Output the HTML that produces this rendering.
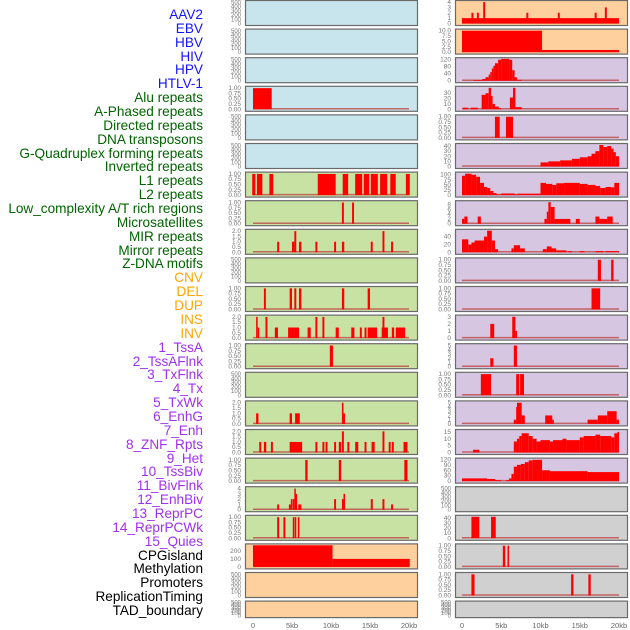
<!DOCTYPE html>
<html><head><meta charset="utf-8">
<style>
html,body{margin:0;padding:0;background:#fff;width:630px;height:630px;overflow:hidden}
#lbls div{position:absolute;right:427px;font-family:"Liberation Sans",sans-serif;font-size:13.6px;line-height:14px;white-space:nowrap}
</style></head><body>
<div id="lbls"></div>
<svg id="chart" width="630" height="630" style="position:absolute;left:0;top:0"></svg>
<script>
const labelNames = ["AAV2","EBV","HBV","HIV","HPV","HTLV-1","Alu repeats","A-Phased repeats","Directed repeats","DNA transposons","G-Quadruplex forming repeats","Inverted repeats","L1 repeats","L2 repeats","Low_complexity A/T rich regions","Microsatellites","MIR repeats","Mirror repeats","Z-DNA motifs","CNV","DEL","DUP","INS","INV","1_TssA","2_TssAFlnk","3_TxFlnk","4_Tx","5_TxWk","6_EnhG","7_Enh","8_ZNF_Rpts","9_Het","10_TssBiv","11_BivFlnk","12_EnhBiv","13_ReprPC","14_ReprPCWk","15_Quies","CPGisland","Methylation","Promoters","ReplicationTiming","TAD_boundary"];
const labelGroups = [6,13,5,15,5];
const groupColors = ["#1414ff","#006400","#ffa500","#a030f0","#000000"];

const xTicks = [0,5,10,15,20];
const xTickLabels = ["0","5kb","10kb","15kb","20kb"];

const leftBg = ["#c8e4ec","#c8e4ec","#c8e4ec","#c8e4ec","#c8e4ec","#c8e4ec","#c8e2a4","#c8e2a4","#c8e2a4","#c8e2a4","#c8e2a4","#c8e2a4","#c8e2a4","#c8e2a4","#c8e2a4","#c8e2a4","#c8e2a4","#c8e2a4","#c8e2a4","#fed09e","#fed09e","#fed09e"];
const rightBg = ["#fed09e","#fed09e","#d6c6e2","#d6c6e2","#d6c6e2","#d6c6e2","#d6c6e2","#d6c6e2","#d6c6e2","#d6c6e2","#d6c6e2","#d6c6e2","#d6c6e2","#d6c6e2","#d6c6e2","#d6c6e2","#d6c6e2","#d0d0d0","#d0d0d0","#d0d0d0","#d0d0d0","#d0d0d0"];

const T500 = ["0","100","200","300","400","500"];
const T1 = ["0.00","0.25","0.50","0.75","1.00"];
const T2 = ["0.0","0.5","1.0","1.5","2.0"];
const leftYMax = [520,520,520,1.04,520,520,1.04,1.04,2.08,520,1.04,2.08,1.04,520,2.08,2.08,1.04,4.16,1.04,275,520,520];
const leftTicks = [T500,T500,T500,T1,T500,T500,T1,T1,T2,T500,T1,T2,T1,T500,T2,T2,T1,["0","1","2","3","4"],T1,["0","100","200"],T500,T500];
const leftSegs = [
 [],[],[],
 [[0,2.4,1]],
 [],[],
 [[-0.1,0.3,1],[0.5,1.2,1],[2.1,2.6,1],[8.3,10.6,1],[11.5,12.2,1],[13.1,14,1],[14.2,14.9,1],[15.1,16,1],[16.3,17.2,1],[17.6,18.3,1],[19.6,20.1,1]],
 [[11.4,11.65,1],[12.7,12.95,1]],
 [[3.1,3.35,1],[5.0,5.3,1],[5.3,5.55,2],[5.9,6.2,1],[8.0,8.25,1],[10.4,10.65,1],[11.4,11.7,1],[15.1,15.35,1],[16.6,16.85,2],[17.7,17.95,1]],
 [],
 [[1.4,1.65,1],[4.7,5.0,1],[5.3,5.55,1],[5.9,6.2,1],[11.4,11.7,1],[14.7,15.0,1]],
 [[0.4,0.6,2],[0.6,0.7,1],[1.6,1.85,2],[2.8,3.2,1],[4.5,5.9,1],[7.0,7.4,1],[8.0,8.25,2],[8.9,9.15,2],[10.6,11.0,1],[12.6,13.0,1],[13.7,13.95,1],[14.3,14.55,1],[14.7,15.9,1],[16.6,16.85,2],[16.5,17.3,1],[17.8,18.1,1],[18.3,19.5,1]],
 [[9.85,10.25,1]],
 [],
 [[0.4,0.7,1],[4.7,5.0,1],[5.4,6.0,1],[11.4,11.6,2],[11.6,11.7,1]],
 [[0.8,1.05,1],[1.4,1.7,1],[2.3,2.55,1],[4.7,6.3,1],[8.0,8.25,1],[8.9,9.15,1],[9.3,9.55,1],[10.4,10.65,1],[11.0,11.3,1],[11.4,11.65,2],[12.1,12.35,1],[13.1,13.5,1],[14.3,14.55,1],[15.2,15.6,1],[16.6,16.85,2],[17.4,17.65,1],[17.8,18.05,1],[19.3,19.8,1]],
 [[6.7,7.0,1],[11.0,11.3,1],[19.4,19.8,1]],
 [[3.1,3.35,1],[4.6,4.85,1],[4.85,5.05,2],[5.1,5.3,2],[5.3,5.45,4],[5.45,5.65,3],[5.8,6.2,1],[10.4,10.65,2],[11.4,11.6,2],[11.6,11.8,3],[15.1,15.35,2],[16.6,16.85,2],[17.7,17.95,1]],
 [[3.1,3.35,1],[3.9,4.15,1],[5.1,5.3,1],[5.35,5.55,1],[5.75,5.95,1]],
 [[0,10.2,270],[10.2,20.1,100]],
 [],[]
];

const rightYMax = [4.1,10.3,126,41,1.04,43,108,9.2,56,1.04,1.04,3.1,5.2,1.04,5.2,16,122,520,43,1.04,1.04,520];
const rightTicks = [["0","1","2","3","4"],["0.0","2.5","5.0","7.5","10.0"],["0","40","80","120"],["0","10","20","30"],T1,["0","10","20","30","40"],["0","25","50","75","100"],["0","2","4","6","8"],["0","20","40"],T1,T1,["0","1","2","3"],["0","1","2","3","4","5"],T1,["0","1","2","3","4","5"],["0","5","10","15"],["0","30","60","90","120"],T500,["0","10","20","30","40"],T1,T1,T500];
const rightSegs = [
 [[0,20,1],[1.2,1.45,2],[1.9,2.15,2],[2.7,2.95,4],[8.2,8.45,2],[12.2,12.45,2],[16.9,17.15,2],[18.2,18.45,3]],
 [[0,10.2,10],[10.2,20,1]],
 [[1.4,2.6,4],[2.6,3.0,10],[3.0,3.4,20],[3.4,3.6,35],[3.6,3.8,50],[3.8,4.0,70],[4.0,4.2,85],[4.2,4.6,100],[4.6,5.0,120],[5.0,6.0,125],[6.0,6.4,120],[6.4,6.7,60],[6.7,7.0,20],[7.0,7.6,5]],
 [[0.1,0.8,3],[1.1,2.0,3],[2.5,3.0,27],[3.0,3.4,30],[3.4,3.7,40],[3.7,3.9,25],[3.9,4.2,10],[4.2,4.7,5],[4.7,5.0,2],[6.1,6.5,22],[6.5,6.8,40],[6.8,7.6,4]],
 [[4.2,4.8,1],[5.6,6.5,1]],
 [[10,11,8],[11,12.5,10],[12.5,14,12],[14,15,15],[15,16,18],[16,16.5,20],[16.5,17,25],[17,17.5,30],[17.5,18,42],[18,18.5,38],[18.5,19,40],[19,19.3,35],[19.3,19.6,28],[19.6,20,20]],
 [[0,0.4,95],[0.4,1.2,105],[1.2,1.8,100],[1.8,2.3,90],[2.3,2.8,60],[2.8,3.2,40],[3.2,3.6,35],[3.6,4,20],[4,4.4,10],[4.4,5,3],[5,6.7,8],[6.7,7.1,3],[7.1,10,7],[10,10.7,60],[10.7,11.5,55],[11.5,12,50],[12,13,58],[13,15,60],[15,16,55],[16,17,50],[17,17.6,45],[17.6,18.3,35],[18.3,19,40],[19,19.4,38],[19.4,20,60]],
 [[0,0.3,2],[0.3,0.7,3],[2.0,2.4,3],[10.5,10.8,2],[10.8,11,5],[11,11.3,9],[11.3,11.8,7],[11.8,13.8,2],[14.5,15,2],[17,17.5,3],[17.5,18.5,2],[18.5,19.2,3]],
 [[0,0.8,33],[0.8,1.2,20],[1.2,1.6,25],[1.6,2.8,30],[2.8,3.2,40],[3.2,3.8,55],[3.8,4.2,30],[4.2,4.6,8],[6.3,6.6,10],[6.6,7.4,18],[7.4,8,10],[10.3,10.8,8],[10.8,11.4,15],[11.4,12,10],[12,13.3,5],[13.5,14,3],[15,15.6,3],[17,18,3],[18.3,20,3]],
 [[17.3,17.7,1],[19.0,19.3,1]],
 [[16.5,17.6,1]],
 [[3.6,4.1,2],[6.4,6.8,3],[6.8,7.0,1]],
 [[3.6,4.0,2],[6.6,7.0,5]],
 [[2.4,3.7,1],[6.9,7.3,1],[7.4,7.9,1]],
 [[6.6,6.9,1],[6.9,7.0,4],[7.0,7.6,5],[7.6,8.0,2],[10.6,11.5,2],[11.5,11.7,1],[16.0,17.3,1],[17.3,18.5,2],[18.5,19.7,3],[19.7,20,1]],
 [[1.4,2.2,2],[6.6,7.0,8],[7.0,7.3,10],[7.3,7.6,12],[7.6,8.5,14],[8.5,9,12],[9,9.5,10],[9.5,10,8],[10,11.2,9],[11.2,11.6,8],[11.6,12.8,9],[12.8,13.3,10],[13.3,15,9],[15,15.5,11],[15.5,17,12],[17,17.6,13],[17.6,19,12],[19,19.4,11],[19.4,19.8,14],[19.8,20,15]],
 [[0,3.2,15],[3.2,4.2,12],[4.2,5.0,5],[5.6,6.0,5],[6.0,6.3,15],[6.3,6.6,40],[6.6,7.0,80],[7.0,7.5,90],[7.5,8,95],[8,8.5,105],[8.5,9,115],[9,10.2,118],[10.2,11.2,60],[11.2,16,55],[16,20,50]],
 [],
 [[1.2,2.2,42],[3.7,4.3,42]],
 [[5.2,5.5,1],[5.8,6.0,1]],
 [[1.2,1.6,1],[13.9,14.2,1],[16.1,16.4,1]],
 []
];

const NS="http://www.w3.org/2000/svg";
const svg=document.getElementById('chart');
function mk(tag,attrs,parent){const e=document.createElementNS(NS,tag);for(const k in attrs)e.setAttribute(k,attrs[k]);(parent||svg).appendChild(e);return e;}
const PITCH=28.6, PH=25;
const cols=[{px:245,pw:172,x0:253,kx:7.8,bg:leftBg,ym:leftYMax,tk:leftTicks,sg:leftSegs,side:'left'},
            {px:455,pw:172,x0:462,kx:7.85,bg:rightBg,ym:rightYMax,tk:rightTicks,sg:rightSegs,side:'right'}];
cols.forEach(c=>{
  const xs=kb=>c.x0+kb*c.kx;
  for(let i=0;i<22;i++){
    const top=0.5+i*PITCH; const h=(i===21)?16.5:PH;
    const g=mk('g',{});
    
    
    const r=mk('rect',{x:c.px+0.5,y:top,width:c.pw,height:h,fill:c.bg[i],stroke:'#6a6a6a','stroke-width':1.2},g);
    
    
    const yb=top+h-2, yt=top+1;
    const ys=v=>yb-(v/c.ym[i])*(yb-yt);
    // baseline
    if(c.sg[i].length){
      const bl=mk('line',{x1:xs(0),x2:xs(20),y1:yb-0.5,y2:yb-0.5,stroke:'#c04848','stroke-width':1.5,opacity:0.8},g);
      
      
    }
    c.sg[i].forEach(s=>{
      const b=mk('rect',{x:xs(s[0]),y:ys(s[2]),width:Math.max(1.5,xs(s[1])-xs(s[0])),height:yb-ys(s[2]),fill:'#ff0000'},g);
      
      
    });
    c.tk[i].forEach(t=>{
      const v=parseFloat(t);
      const tx=mk('text',{x:c.px-4,y:ys(v)+2,'text-anchor':'end','font-size':(c.tk[i].length>5?6:6.5),fill:'#777','font-family':'Liberation Sans, sans-serif'},g);
      tx.textContent=t;
      
      
    });
  }
  xTicks.forEach((v,j)=>{
    const tx=mk('text',{x:xs(v),y:628,'text-anchor':'middle','font-size':7.5,fill:'#666','font-family':'Liberation Sans, sans-serif'});
    tx.textContent=xTickLabels[j];
    
    
  });
});
const lb=document.getElementById('lbls');
let idx=0;
labelGroups.forEach((n,gi)=>{
  for(let k=0;k<n;k++){
    const d=document.createElement('div');
    d.textContent=labelNames[idx];
    d.style.top=(15+idx*13.86-7)+'px';
    d.style.color=groupColors[gi];
    
    
    lb.appendChild(d);idx++;
  }
});
</script>
</body></html>
